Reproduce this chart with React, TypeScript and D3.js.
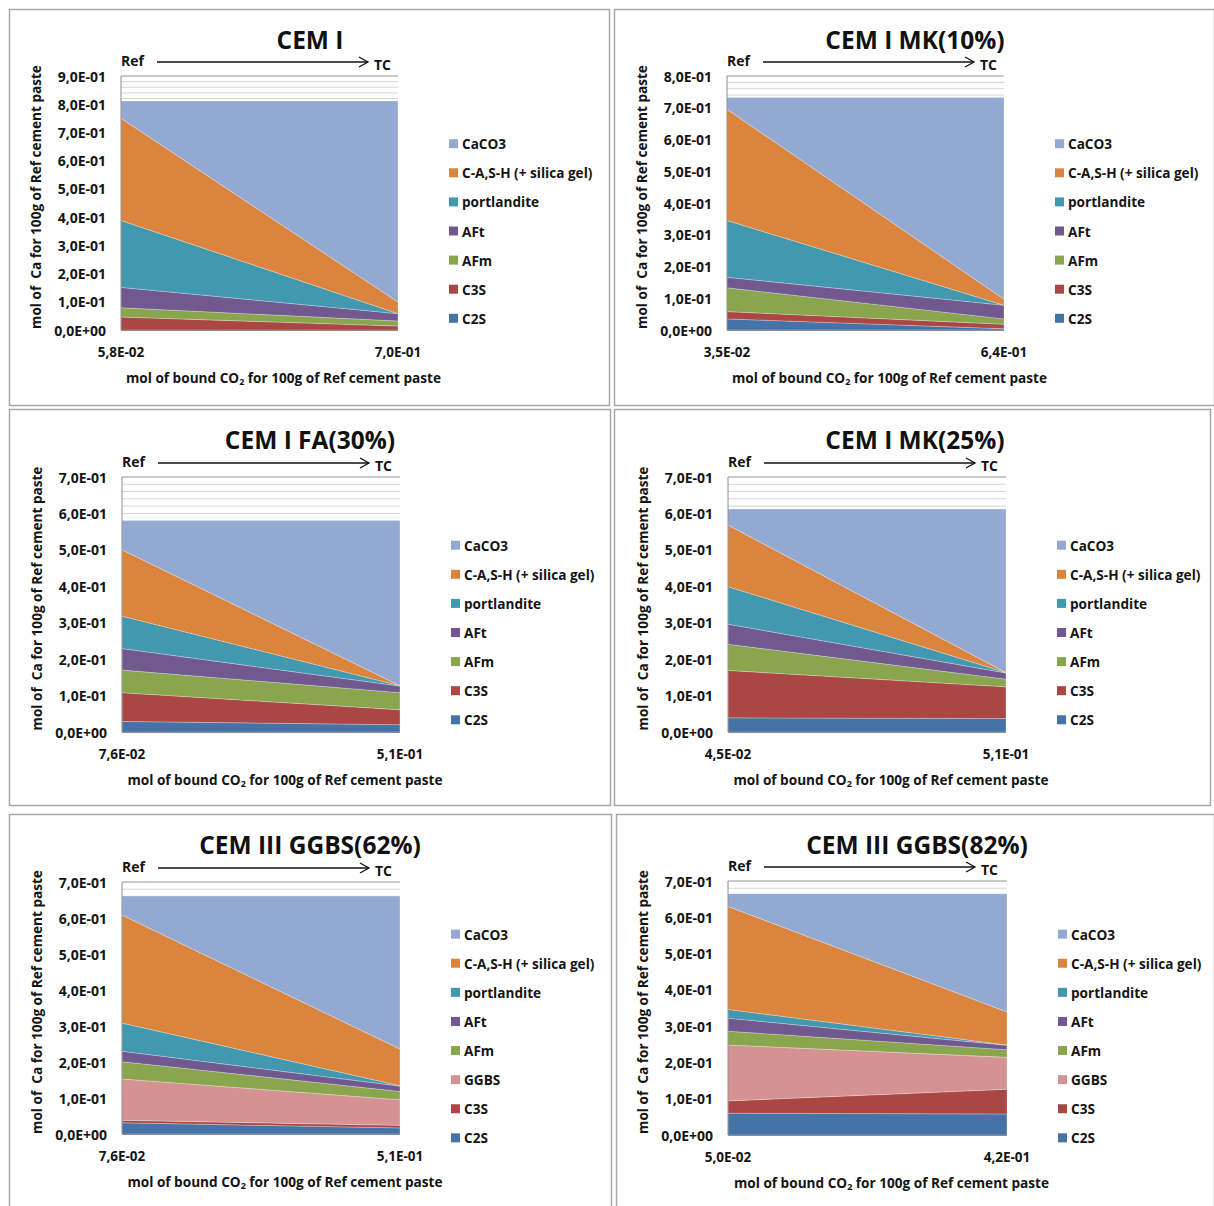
import React from "react";
import * as d3 from "d3";

// ---------- DATA ----------
const seriesBase = ["C2S", "C3S", "AFm", "AFt", "portlandite", "C-A,S-H (+ silica gel)", "CaCO3"];
const seriesGGBS = ["C2S", "C3S", "GGBS", "AFm", "AFt", "portlandite", "C-A,S-H (+ silica gel)", "CaCO3"];

const seriesColors: Record<string, string> = {
  C2S: "#4572A7",
  C3S: "#AA4643",
  GGBS: "#D49392",
  AFm: "#89A54E",
  AFt: "#71588F",
  portlandite: "#4198AF",
  "C-A,S-H (+ silica gel)": "#DB843D",
  CaCO3: "#93A9D1",
};

const titles = ["CEM I", "CEM I MK(10%)", "CEM I FA(30%)", "CEM I MK(25%)", "CEM III GGBS(62%)", "CEM III GGBS(82%)"];
const xTickLabels = [
  ["5,8E-02", "7,0E-01"],
  ["3,5E-02", "6,4E-01"],
  ["7,6E-02", "5,1E-01"],
  ["4,5E-02", "5,1E-01"],
  ["7,6E-02", "5,1E-01"],
  ["5,0E-02", "4,2E-01"],
];
const yMaxValues = [0.9, 0.8, 0.7, 0.7, 0.7, 0.7];

// values per series (bottom to top), [Ref, TC]
const cemI = [
  [0, 0], [0.046, 0.014], [0.033, 0.018], [0.072, 0.026], [0.237, 0], [0.362, 0.041], [0.061, 0.712],
];
const cemIMK10 = [
  [0.035, 0.004], [0.023, 0.014], [0.075, 0.017], [0.033, 0.043], [0.179, 0], [0.35, 0.019], [0.037, 0.635],
];
const cemIFA30 = [
  [0.029, 0.02], [0.079, 0.041], [0.062, 0.047], [0.059, 0.018], [0.089, 0.001], [0.182, 0], [0.08, 0.453],
];
const cemIMK25 = [
  [0.039, 0.037], [0.13, 0.087], [0.072, 0.021], [0.055, 0.017], [0.103, 0.001], [0.169, 0], [0.044, 0.449],
];
const cemIIIGGBS62 = [
  [0.031, 0.017], [0.007, 0.007], [0.115, 0.071], [0.048, 0.023], [0.029, 0.015], [0.078, 0.001], [0.3, 0.102], [0.053, 0.425],
];
const cemIIIGGBS82 = [
  [0.06, 0.058], [0.034, 0.068], [0.154, 0.088], [0.038, 0.021], [0.036, 0.012], [0.024, 0.001], [0.284, 0.091], [0.035, 0.326],
];

const panelValues = [cemI, cemIMK10, cemIFA30, cemIMK25, cemIIIGGBS62, cemIIIGGBS82];
const panelSeries = [seriesBase, seriesBase, seriesBase, seriesBase, seriesGGBS, seriesGGBS];

// ---------- LAYOUT ----------
const panelBoxes = [
  { x: 9, y: 9, w: 600, h: 396, pl: 121, pr: 398, pt: 76, pb: 330 },
  { x: 614, y: 9, w: 600, h: 396, pl: 727, pr: 1004, pt: 76, pb: 330 },
  { x: 9, y: 409, w: 601, h: 396, pl: 122, pr: 400, pt: 477, pb: 732 },
  { x: 614, y: 409, w: 596, h: 396, pl: 728, pr: 1006, pt: 477, pb: 732 },
  { x: 9, y: 814, w: 602, h: 400, pl: 122, pr: 400, pt: 882, pb: 1134 },
  { x: 616, y: 814, w: 598, h: 400, pl: 728, pr: 1007, pt: 881, pb: 1135 },
];

const FONT = "'Open Sans', Lato, sans-serif";
const TXT = "#141414";

function fmtSci(v: number): string {
  if (Math.abs(v) < 1e-12) return "0,0E+00";
  const exp = Math.floor(Math.log10(Math.abs(v)) + 1e-9);
  const mant = v / Math.pow(10, exp);
  const sign = exp < 0 ? "-" : "+";
  return `${mant.toFixed(1).replace(".", ",")}E${sign}${String(Math.abs(exp)).padStart(2, "0")}`;
}

function Panel({ idx }: { idx: number }) {
  const b = panelBoxes[idx];
  const keys = panelSeries[idx];
  const vals = panelValues[idx];
  const labels = xTickLabels[idx];
  const yMax = yMaxValues[idx];

  const x = d3.scalePoint<string>().domain(labels).range([b.pl, b.pr]).padding(0);
  const y = d3.scaleLinear().domain([0, yMax]).range([b.pb, b.pt]);

  const rows = labels.map((lab, i) => {
    const r: Record<string, any> = { label: lab };
    keys.forEach((k, s) => (r[k] = vals[s][i]));
    return r;
  });
  const stacked = d3.stack<any>().keys(keys)(rows);
  const area = d3
    .area<any>()
    .x((d) => x(d.data.label) as number)
    .y0((d) => y(d[0]))
    .y1((d) => y(d[1]));

  const minorTicks = d3.range(0, yMax + 1e-9, 0.02);
  const majorTicks = d3.range(0, yMax + 1e-9, 0.1);

  const plotMidY = (b.pt + b.pb) / 2;
  const legendKeys = [...keys].reverse();
  const legendStep = 29.1;
  const legendTop = plotMidY + 28 - ((legendKeys.length - 1) * legendStep) / 2;

  const titleX = b.x + 301;
  const titleY = b.y + 30;
  const arrowY = b.pt - 14;

  return (
    <g>
      <rect x={b.x + 0.5} y={b.y + 0.5} width={b.w} height={b.h} fill="#fff" stroke="#a8a8a8" strokeWidth={1.5} />
      {/* gridlines */}
      {minorTicks.map((t, i) => (
        <line key={"g" + i} x1={b.pl} x2={b.pr} y1={y(t)} y2={y(t)} stroke="#d6d6d6" strokeWidth={1} />
      ))}
      <line x1={b.pl} x2={b.pr} y1={y(yMax)} y2={y(yMax)} stroke="#a6a6a6" strokeWidth={1} />
      {/* areas */}
      {stacked.map((s) => (
        <path
          key={s.key}
          d={area(s) as string}
          fill={seriesColors[s.key]}
          stroke="rgba(255,255,255,0.45)"
          strokeWidth={0.6}
        />
      ))}
      {/* axes */}
      <line x1={b.pl} x2={b.pl} y1={b.pt} y2={b.pb} stroke="#8c8c8c" strokeWidth={1} />
      <line x1={b.pl} x2={b.pr} y1={b.pb + 0.5} y2={b.pb + 0.5} stroke="#8c8c8c" strokeWidth={1} />
      {majorTicks.map((t, i) => (
        <text
          key={"yt" + i}
          x={b.pl - 15}
          y={y(t)}
          textAnchor="end"
          dominantBaseline="central"
          fontFamily={FONT}
          fontWeight="bold"
          fontSize={14}
          fill={TXT}
        >
          {fmtSci(t)}
        </text>
      ))}
      {labels.map((lab) => (
        <text
          key={lab}
          x={x(lab) as number}
          y={b.pb + 22}
          textAnchor="middle"
          dominantBaseline="central"
          fontFamily={FONT}
          fontWeight="bold"
          fontSize={13.5}
          fill={TXT}
        >
          {lab}
        </text>
      ))}
      {/* x axis title */}
      <text
        x={(b.pl + b.pr) / 2 + 24}
        y={b.pb + 47}
        textAnchor="middle"
        dominantBaseline="central"
        fontFamily={FONT}
        fontWeight="bold"
        fontSize={13.6}
        fill={TXT}
      >
        mol of bound CO
        <tspan fontSize={9} dy={4}>2</tspan>
        <tspan dy={-4}> for 100g of Ref cement paste</tspan>
      </text>
      {/* y axis title */}
      <text
        transform={`translate(${b.pl - 86},${plotMidY - 6}) rotate(-90)`}
        textAnchor="middle"
        dominantBaseline="central"
        fontFamily={FONT}
        fontWeight="bold"
        fontSize={13.6}
        fill={TXT}
        style={{ whiteSpace: "pre" }}
      >
        {"mol of  Ca for 100g of Ref cement paste"}
      </text>
      {/* title */}
      <text
        x={titleX}
        y={titleY}
        textAnchor="middle"
        dominantBaseline="central"
        fontFamily={FONT}
        fontWeight="bold"
        fontSize={24.5}
        fill="#111"
      >
        {titles[idx]}
      </text>
      {/* Ref -> TC arrow */}
      <text x={b.pl} y={arrowY - 2} dominantBaseline="central" fontFamily={FONT} fontWeight="bold" fontSize={14} fill={TXT}>
        Ref
      </text>
      <line x1={b.pl + 36} x2={b.pl + 247} y1={arrowY} y2={arrowY} stroke="#111" strokeWidth={1.3} />
      <path
        d={`M${b.pl + 238},${arrowY - 5} L${b.pl + 247},${arrowY} L${b.pl + 238},${arrowY + 5}`}
        fill="none"
        stroke="#111"
        strokeWidth={1.3}
      />
      <text x={b.pl + 253} y={arrowY + 2} dominantBaseline="central" fontFamily={FONT} fontWeight="bold" fontSize={14} fill={TXT}>
        TC
      </text>
      {/* legend */}
      {legendKeys.map((k, i) => {
        const ly = legendTop + i * legendStep;
        return (
          <g key={"lg" + k}>
            <rect x={b.pr + 51} y={ly - 4.5} width={9} height={9} fill={seriesColors[k]} />
            <text
              x={b.pr + 64}
              y={ly}
              dominantBaseline="central"
              fontFamily={FONT}
              fontWeight="bold"
              fontSize={13.6}
              fill={TXT}
            >
              {k}
            </text>
          </g>
        );
      })}
    </g>
  );
}

export default function App() {
  return (
    <svg
      width={1214}
      height={1206}
      style={{ position: "absolute", left: 0, top: 0, display: "block", background: "#fff" }}
    >
      <rect x={0} y={0} width={1214} height={1206} fill="#fff" />
      {titles.map((_, i) => (
        <Panel key={i} idx={i} />
      ))}
    </svg>
  );
}
